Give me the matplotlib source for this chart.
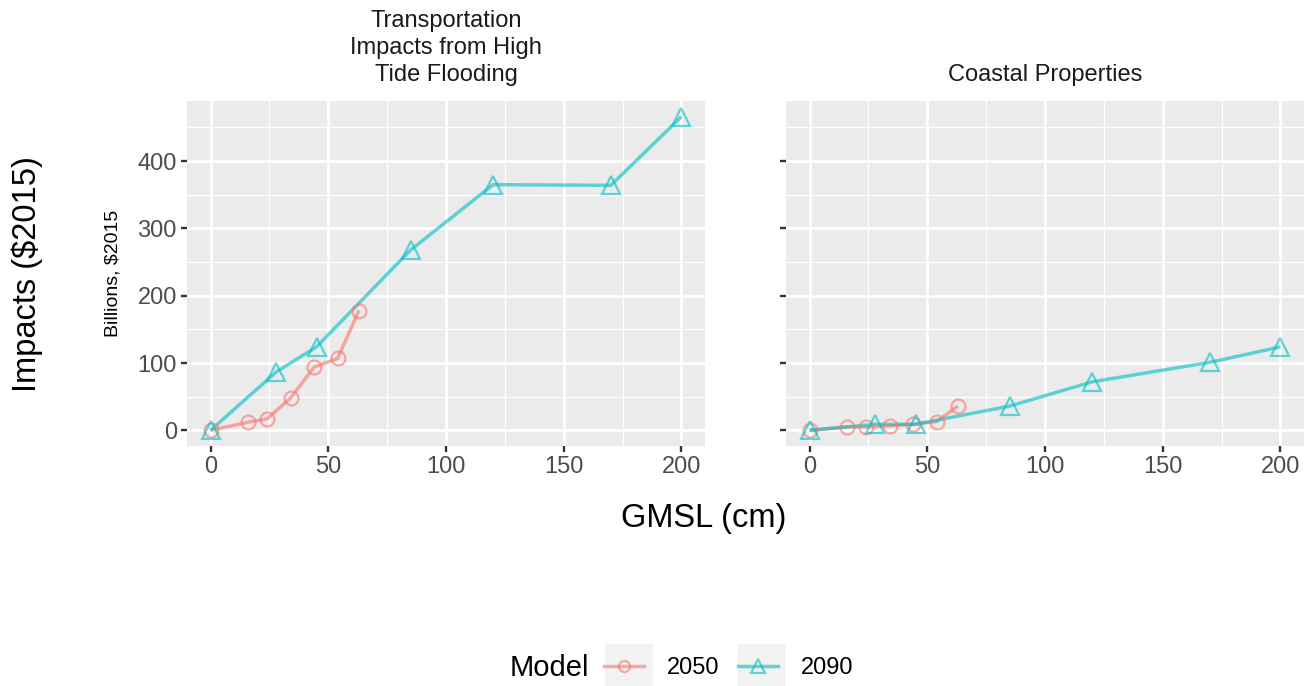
import matplotlib
matplotlib.use("Agg")
import matplotlib.pyplot as plt
from matplotlib.patches import Rectangle
from matplotlib.lines import Line2D
from matplotlib.ticker import MultipleLocator

plt.rcParams['font.family'] = ['Liberation Sans', 'DejaVu Sans']

# Sea-level scenarios (GMSL, cm) for each model year
gmsl_2050 = [0, 16, 24, 34, 44, 54, 63]
gmsl_2090 = [0, 28, 45, 85, 120, 170, 200]

# Impacts, billions of 2015 dollars
transport_2050 = [0, 12, 17, 48, 94, 107, 178]
transport_2090 = [0, 87, 124, 268, 365, 364, 466]
coastal_2050 = [0, 5, 5, 6.5, 9, 13, 36]
coastal_2090 = [0, 9, 9, 36, 72, 101, 124]

sectors = ["Transportation\nImpacts from High\nTide Flooding", "Coastal Properties"]
models = ["2050", "2090"]
x_ticks = [0, 50, 100, 150, 200]
y_ticks = [0, 100, 200, 300, 400]

colors = {"2050": "#F8766D", "2090": "#00BFC4"}
markers = {"2050": "o", "2090": "^"}
msize = {"2050": 10, "2090": 13}
ALPHA = 0.6

W, H = 1309, 686
fig = plt.figure(figsize=(W / 100, H / 100), dpi=100)
fig.patch.set_facecolor("white")


def px_rect(x0, y0, x1, y1):
    return [x0 / W, 1 - y1 / H, (x1 - x0) / W, (y1 - y0) / H]


panel_data = [
    {"2050": (gmsl_2050, transport_2050), "2090": (gmsl_2090, transport_2090)},
    {"2050": (gmsl_2050, coastal_2050), "2090": (gmsl_2090, coastal_2090)},
]

all_y = transport_2050 + transport_2090 + coastal_2050 + coastal_2090
all_x = gmsl_2050 + gmsl_2090
yr = max(all_y) - min(all_y)
xr = max(all_x) - min(all_x)
ylim = (min(all_y) - 0.05 * yr, max(all_y) + 0.05 * yr)
xlim = (min(all_x) - 0.05 * xr, max(all_x) + 0.05 * xr)

axes = [fig.add_axes(px_rect(187, 101, 705, 446)),
        fig.add_axes(px_rect(786, 101, 1304, 446))]

for i, (ax, data) in enumerate(zip(axes, panel_data)):
    ax.set_facecolor("#EBEBEB")
    for s in ax.spines.values():
        s.set_visible(False)
    ax.set_xlim(*xlim)
    ax.set_ylim(*ylim)
    ax.set_xticks(x_ticks)
    ax.set_yticks(y_ticks)
    ax.xaxis.set_minor_locator(MultipleLocator(25))
    ax.yaxis.set_minor_locator(MultipleLocator(50))
    ax.grid(which="major", color="white", linewidth=2.0)
    ax.grid(which="minor", color="white", linewidth=0.9)
    ax.set_axisbelow(True)
    ax.tick_params(which="major", length=4.3, width=1.7, color="#333333",
                   labelcolor="#4D4D4D", labelsize=17, pad=3)
    ax.tick_params(which="minor", length=0)
    if i == 1:
        ax.tick_params(axis="y", labelleft=False)
    for m in models:
        xs, ys = data[m]
        ax.plot(xs, ys, color=colors[m], alpha=ALPHA, linewidth=2.5,
                solid_capstyle="butt", zorder=2)
    for m in models:
        xs, ys = data[m]
        ax.plot(xs, ys, linestyle="none", marker=markers[m], markersize=msize[m],
                markerfacecolor="none", markeredgecolor=colors[m],
                markeredgewidth=1.6, alpha=ALPHA, zorder=3)

# Facet strip titles
fig.text(446 / W, 1 - 86 / H, sectors[0], ha="center", va="bottom",
         fontsize=17, color="#1A1A1A", linespacing=1.3)
fig.text(1045 / W, 1 - 86 / H, sectors[1], ha="center", va="bottom",
         fontsize=17, color="#1A1A1A")

# Axis titles
fig.text(704 / W, 1 - 518 / H, "GMSL (cm)", ha="center", va="center",
         fontsize=23.5, color="black")
fig.text(27 / W, 1 - 274 / H, "Impacts ($2015)", ha="center", va="center",
         rotation=90, fontsize=23.5, color="black")
fig.text(113 / W, 1 - 273 / H, "Billions, $2015", ha="center", va="center",
         rotation=90, fontsize=14, color="black")

# Legend
fig.text(510 / W, 1 - 668 / H, "Model", ha="left", va="center",
         fontsize=21, color="black")
key_boxes = [(605, 653), (738, 786)]
for (k0, k1) in key_boxes:
    fig.patches.append(Rectangle((k0 / W, 1 - 692 / H), (k1 - k0) / W, 48 / H,
                                 transform=fig.transFigure, facecolor="#F2F2F2",
                                 edgecolor="none", zorder=0))
handles = [Line2D([0], [0], color=colors[m], alpha=ALPHA, linewidth=2.5,
                  marker=markers[m], markersize=msize[m] * 0.8,
                  markerfacecolor="none", markeredgecolor=colors[m],
                  markeredgewidth=1.6) for m in models]
leg = fig.legend(handles, models, ncol=2, loc="center left",
                 bbox_to_anchor=(604 / W, 1 - 668 / H), frameon=False,
                 fontsize=17, handlelength=1.7, handletextpad=0.95,
                 columnspacing=0.8, borderpad=0, borderaxespad=0)

fig.savefig("out.png", dpi=100, facecolor="white")
